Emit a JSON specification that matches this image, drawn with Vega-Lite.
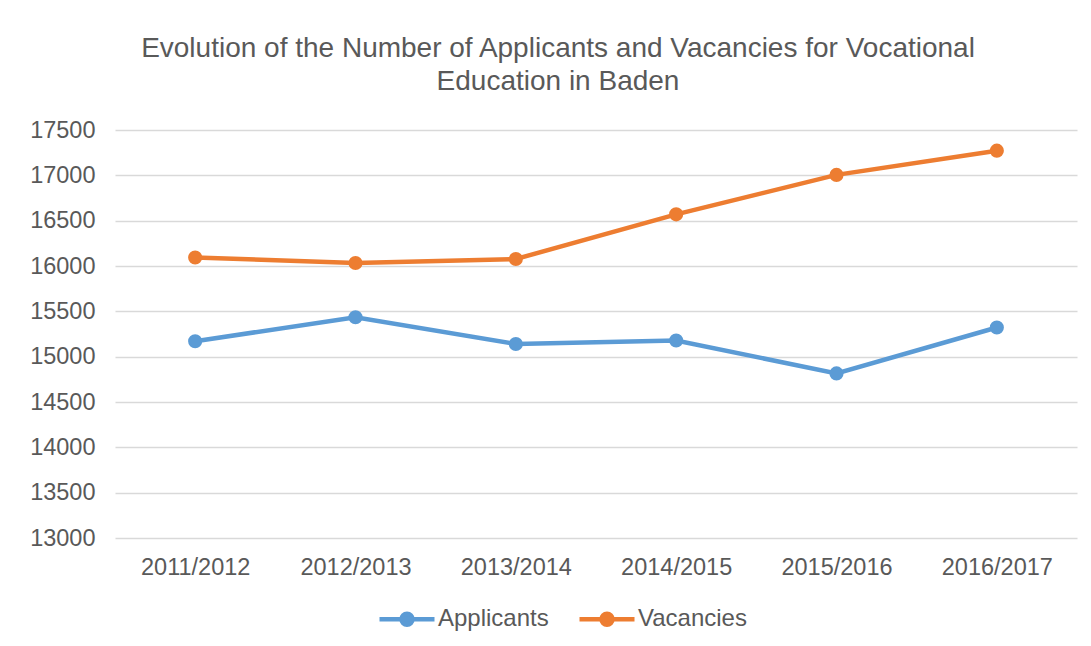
{
  "$schema": "https://vega.github.io/schema/vega-lite/v6.json",
  "autosize": {"type": "none"},
  "width": 962,
  "height": 408,
  "padding": {"left": 115, "top": 130, "right": 14, "bottom": 108},
  "background": "white",
  "title": {
    "text": ["Evolution of the Number of Applicants and Vacancies for Vocational", "Education in Baden"],
    "font": "Liberation Sans",
    "fontSize": 28,
    "fontWeight": "normal",
    "color": "#595959",
    "anchor": "middle",
    "dx": -38,
    "offset": 22,
    "lineHeight": 33
  },
  "data": {
    "values": [
      {"year": "2011/2012", "series": "Applicants", "value": 15170},
      {"year": "2012/2013", "series": "Applicants", "value": 15435},
      {"year": "2013/2014", "series": "Applicants", "value": 15140},
      {"year": "2014/2015", "series": "Applicants", "value": 15178},
      {"year": "2015/2016", "series": "Applicants", "value": 14815},
      {"year": "2016/2017", "series": "Applicants", "value": 15322},
      {"year": "2011/2012", "series": "Vacancies", "value": 16094},
      {"year": "2012/2013", "series": "Vacancies", "value": 16033},
      {"year": "2013/2014", "series": "Vacancies", "value": 16077},
      {"year": "2014/2015", "series": "Vacancies", "value": 16570},
      {"year": "2015/2016", "series": "Vacancies", "value": 17005},
      {"year": "2016/2017", "series": "Vacancies", "value": 17272}
    ]
  },
  "mark": {"type": "line", "strokeWidth": 4.5, "point": {"filled": true, "size": 200, "opacity": 1}},
  "encoding": {
    "x": {
      "field": "year",
      "type": "ordinal",
      "scale": {"type": "point", "padding": 0.5},
      "axis": {
        "title": null,
        "labelAngle": 0,
        "ticks": false,
        "domain": false,
        "grid": false,
        "labelPadding": 17,
        "labelFont": "Liberation Sans",
        "labelFontSize": 23.5,
        "labelColor": "#595959"
      }
    },
    "y": {
      "field": "value",
      "type": "quantitative",
      "scale": {"domain": [13000, 17500], "nice": false, "zero": false},
      "axis": {
        "title": null,
        "values": [13000, 13500, 14000, 14500, 15000, 15500, 16000, 16500, 17000, 17500],
        "format": "d",
        "ticks": false,
        "domain": false,
        "grid": true,
        "gridColor": "#D9D9D9",
        "gridWidth": 1.5,
        "labelPadding": 20,
        "labelFont": "Liberation Sans",
        "labelFontSize": 23.5,
        "labelColor": "#595959"
      }
    },
    "color": {
      "field": "series",
      "type": "nominal",
      "scale": {"domain": ["Applicants", "Vacancies"], "range": ["#5B9BD5", "#ED7D31"]},
      "legend": {
        "title": null,
        "orient": "none",
        "legendX": 262,
        "legendY": 459,
        "direction": "horizontal",
        "symbolType": "M -1 0 L 1 0 M -0.2 0 A 0.2 0.2 0 1 0 0.2 0 A 0.2 0.2 0 1 0 -0.2 0 Z",
        "symbolSize": 3025,
        "symbolStrokeWidth": 4.5,
        "labelFont": "Liberation Sans",
        "labelFontSize": 24,
        "labelColor": "#595959",
        "labelOffset": 1,
        "columnPadding": 21,
        "encode": {
          "symbols": {"update": {"fill": {"scale": "color", "field": "value"}, "fillOpacity": {"value": 1}, "opacity": {"value": 1}}}
        }
      }
    }
  },
  "config": {"view": {"stroke": null}}
}
